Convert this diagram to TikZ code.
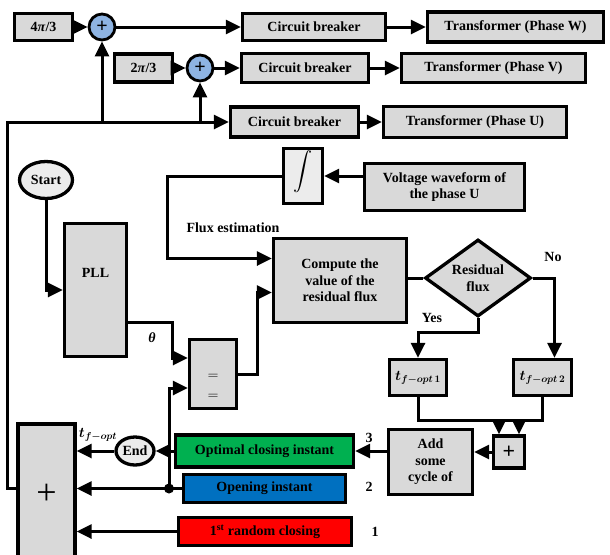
\documentclass[tikz,border=0pt]{standalone}
\usepackage{fontspec}
\setmainfont{Liberation Serif}
\usepackage{bm}
\usepackage{graphicx}
\usetikzlibrary{arrows.meta,shapes.geometric}

\definecolor{boxgray}{RGB}{217,217,217}
\definecolor{ovalgray}{RGB}{236,236,236}
\definecolor{sumblue}{RGB}{142,180,227}
\definecolor{optgreen}{RGB}{0,176,80}
\definecolor{openblue}{RGB}{0,112,192}
\definecolor{randred}{RGB}{255,0,0}

\tikzset{
  blk/.style={draw, line width=3.3pt, fill=boxgray, inner sep=0pt, align=center},
  sumc/.style={draw, circle, line width=2.8pt, fill=sumblue, minimum size=26pt, inner sep=0pt,
    font=\fontsize{20}{20}\selectfont\bfseries},
  oval/.style={draw, ellipse, line width=3.3pt, fill=ovalgray, inner sep=0pt},
  wire/.style={line width=3pt},
  arr/.style={line width=3pt, -{Triangle[length=15pt,width=14pt]}},
}

\begin{document}
\begin{tikzpicture}[x=1pt,y=-1pt,font=\fontsize{14}{16.5}\selectfont\bfseries]
\useasboundingbox (0,0) rectangle (610,554);

\node[blk, minimum width=58pt, minimum height=27pt] (pa) at (43.5,27) {4\textit{π}/3};
\node[sumc] (sa) at (102,27) {+};
\node[blk, minimum width=143pt, minimum height=27pt] (cbw) at (314,27) {Circuit breaker};
\node[blk, minimum width=176pt, minimum height=30pt] (trw) at (515.5,27) {Transformer (Phase W)};

\node[blk, minimum width=58pt, minimum height=28pt] (pb) at (143.5,68) {2\textit{π}/3};
\node[sumc] (sb) at (200,68) {+};
\node[blk, minimum width=127pt, minimum height=29pt] (cbv) at (305,68) {Circuit breaker};
\node[blk, minimum width=184pt, minimum height=29pt] (trv) at (493.5,68) {Transformer (Phase V)};

\node[blk, minimum width=128pt, minimum height=30pt] (cbu) at (294.5,122) {Circuit breaker};
\node[blk, minimum width=183pt, minimum height=31pt] (tru) at (475,122) {Transformer (Phase U)};

\node[oval, minimum width=53pt, minimum height=37pt] (start) at (46,180) {Start};
\node[blk, minimum width=62pt, minimum height=133pt] (pll) at (95.5,290) {\raisebox{13pt}[0pt][0pt]{PLL}};
\node[blk, fill=ovalgray, minimum width=39pt, minimum height=55pt] (integ) at (303,176)
  {\raisebox{-2pt}[0pt][0pt]{\scalebox{1.9}{$\displaystyle\int$}}};
\node[blk, minimum width=160pt, minimum height=47pt] (volt) at (444.5,187) {Voltage waveform of\\the phase U};
\node[blk, minimum width=133pt, minimum height=84pt] (comp) at (340,280.5) {Compute the\\value of the\\residual flux};
\node[draw, diamond, line width=3.3pt, fill=boxgray, aspect=1.4, inner sep=0pt,
  minimum width=106pt, minimum height=77pt, align=center] (resid) at (478,278) {Residual\\flux};
\node[blk, minimum width=47pt, minimum height=69pt] (eq) at (213,374)
  {\raisebox{-16pt}[0pt][0pt]{\begin{tabular}{@{}c@{}}$=$\\[4pt]$=$\end{tabular}}};

\node[blk, minimum width=57pt, minimum height=36pt] (ta) at (418,377.5) {$\bm{t_{f-opt\,1}}$};
\node[blk, minimum width=58pt, minimum height=36pt] (tb) at (542.5,377.5) {$\bm{t_{f-opt\,2}}$};
\node[blk, minimum width=31pt, minimum height=32pt, font=\fontsize{22}{22}\selectfont\bfseries] (sc) at (509,452) {+};
\node[blk, minimum width=84pt, minimum height=65pt] (addc) at (430.5,462) {Add\\some\\cycle of};

\node[blk, fill=optgreen, minimum width=178pt, minimum height=32pt] (opt) at (264.5,451) {Optimal closing instant};
\node[blk, fill=openblue, minimum width=162pt, minimum height=28pt] (open) at (264.5,488.5) {Opening instant};
\node[blk, fill=randred, minimum width=173pt, minimum height=28pt] (rand) at (265,531.5) {1\textsuperscript{st} random closing};
\node[oval, minimum width=38pt, minimum height=28pt] (endn) at (135,451) {End};
\node[blk, minimum width=57pt, minimum height=140pt, font=\fontsize{36}{36}\selectfont] (acc) at (46.5,494) {+};
\node[fill, circle, inner sep=0pt, minimum size=10pt] (junc) at (169,488.5) {};

\node[anchor=west] (fluxlbl) at (183,228) {Flux estimation};
\node (thlbl) at (152,338) {\textit{θ}};
\node (yeslbl) at (432,318) {Yes};
\node (nolbl) at (553,257) {No};
\node (toptlbl) at (98,435) {$\bm{t_{f-opt}}$};
\node (nthree) at (369,438) {3};
\node (ntwo) at (369,487) {2};
\node (none) at (375,532) {1};

\coordinate (fb) at (7,122);
\draw[arr] (acc.west |- open.west) -| (fb) -- (cbu.west);
\draw[arr] (sa |- fb) -- (sa.south);
\draw[arr] (sb |- fb) -- (sb.south);
\draw[arr] (pa.east) -- (sa.west);
\draw[arr] (sa.east) -- (cbw.west);
\draw[arr] (cbw.east) -- (trw.west);
\draw[arr] (pb.east) -- (sb.west);
\draw[arr] (sb.east) -- (cbv.west);
\draw[arr] (cbv.east) -- (trv.west);
\draw[arr] (cbu.east) -- (tru.west);

\draw[arr] (start.south) |- (pll.west);
\draw[arr] ([yshift=-32pt]pll.east) -- ++(44,0) |- ([yshift=16pt]eq.west);
\draw[arr] (junc.center) |- ([yshift=-14pt]eq.west);
\draw[arr] (eq.east) -- ++(19,0) |- ([yshift=-12pt]comp.west);
\draw[arr] (volt.west |- integ.east) -- (integ.east);
\draw[arr] (integ.west) -- ++(-114,0) |- ([yshift=22pt]comp.west);
\draw[wire] (comp.east |- resid.west) -- (resid.west);
\draw[arr] (resid.east) -| ([xshift=12pt]tb.north);
\draw[arr] (resid.south) -- ++(0,14) -| (ta.north);

\coordinate (bus) at (480,420);
\coordinate (sca) at ([xshift=-10pt]sc.north);
\coordinate (scb) at ([xshift=10pt]sc.north);
\draw[wire] (ta.south) |- (bus) -| (tb.south);
\draw[arr] (sca |- bus) -- (sca);
\draw[arr] (scb |- bus) -- (scb);
\draw[arr] (sc.west) -- (addc.east |- sc.west);
\draw[arr] (addc.west |- opt.east) -- (opt.east);
\draw[arr] (opt.west) -- (endn.east);
\draw[arr] (endn.west) -- (acc.east |- endn.west);
\draw[arr] (open.west) -- (acc.east |- open.west);
\draw[arr] (rand.west) -- (acc.east |- rand.west);

\end{tikzpicture}
\end{document}
